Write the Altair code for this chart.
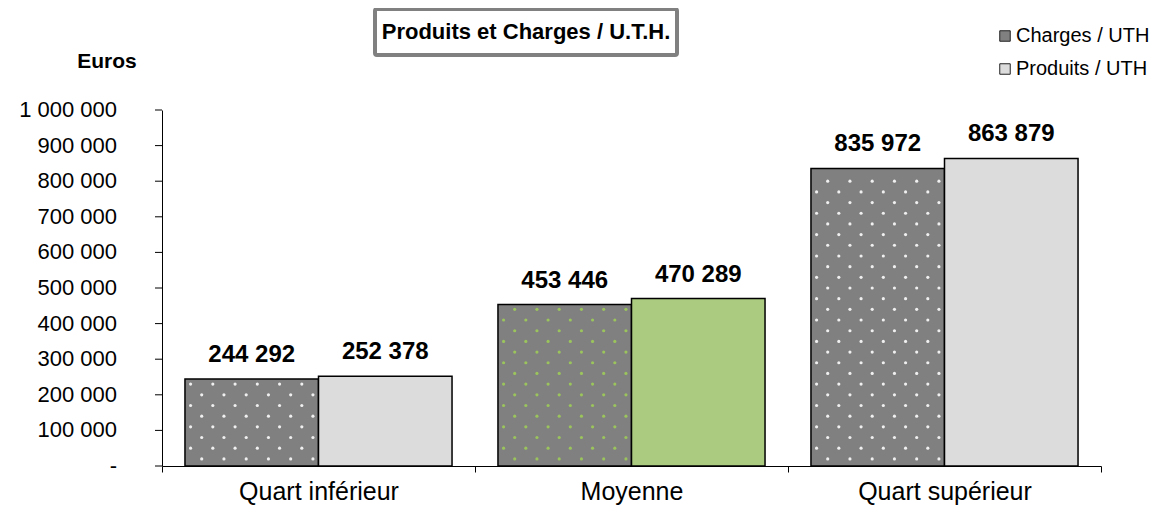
import altair as alt
import pandas as pd

categories = ["Quart inférieur", "Moyenne", "Quart supérieur"]
series = ["Charges / UTH", "Produits / UTH"]
charges = [244292, 453446, 835972]
produits = [252378, 470289, 863879]
y_ticks = [0, 100000, 200000, 300000, 400000, 500000, 600000, 700000, 800000, 900000, 1000000]

rows = []
for c, ch, pr in zip(categories, charges, produits):
    rows.append({"cat": c, "serie": series[0], "val": ch})
    rows.append({"cat": c, "serie": series[1], "val": pr})
df = pd.DataFrame(rows)
ticks_df = pd.DataFrame({"v": y_ticks})

FONT = "Liberation Sans"

x_axis = alt.Axis(title=None, labelFontSize=25, labelFont=FONT, labelColor="black",
                  labelAngle=0, labelLimit=400, domainColor="black", domainWidth=1,
                  tickColor="black", tickSize=6, tickBand="extent", labelPadding=7)
y_axis = alt.Axis(title=None, grid=False, ticks=False, labels=False,
                  domainColor="black", domainWidth=1)


def xe():
    return alt.X("cat:N", sort=categories,
                 scale=alt.Scale(type="band", paddingInner=0, paddingOuter=0), axis=x_axis)


def ye(field):
    return alt.Y(field, scale=alt.Scale(domain=[0, 1000000], nice=False), axis=y_axis)


def xoff():
    return alt.XOffset("serie:N", sort=series,
                       scale=alt.Scale(type="band", paddingInner=0, paddingOuter=0.172))


bars = alt.Chart(df).mark_bar(stroke="black", strokeWidth=1.5).encode(
    x=xe(), xOffset=xoff(), y=ye("val:Q"),
    fill=alt.condition(
        "datum.cat == 'Moyenne' && datum.serie == 'Produits / UTH'",
        alt.value("#aacb80"),
        alt.Fill("serie:N", sort=series,
                 scale=alt.Scale(domain=series, range=["#808080", "#dcdcdc"]),
                 legend=alt.Legend(title=None, orient="none", legendX=833, legendY=-84,
                                   symbolType="square", symbolSize=110,
                                   symbolStrokeColor="#222", symbolStrokeWidth=1,
                                   labelFontSize=20, labelFont=FONT, labelColor="black",
                                   labelOffset=1, rowPadding=13, padding=0))),
)

# dotted texture of the "Charges" bars (a fill pattern, built from each bar's value)
dots = alt.Chart(df).transform_filter(
    "datum.serie == 'Charges / UTH'"
).transform_calculate(
    r="sequence(0, floor((datum.val - 30000) / 30000) + 1)"
).transform_flatten(["r"]).transform_calculate(
    c="sequence(datum.r % 2 == 0 ? 1 : 0, 12, 2)"
).transform_flatten(["c"]).transform_calculate(
    yv="20000 + 30000 * datum.r",
    dc="datum.cat == 'Moyenne' ? '#9cc85a' : '#f6f6f6'"
).mark_circle(size=10, opacity=0.95).encode(
    x=xe(),
    xOffset=alt.XOffset("c:O", scale=alt.Scale(type="band", domain=list(range(-2, 26)),
                                                paddingInner=0, paddingOuter=0.07)),
    y=ye("yv:Q"),
    color=alt.Color("dc:N", scale=None),
)

labels = alt.Chart(df).transform_calculate(
    lab="replace(format(datum.val, ','), ',', ' ')"
).mark_text(fontSize=24, fontWeight="bold", font=FONT, color="black",
            baseline="alphabetic", dy=-17).encode(
    x=xe(), xOffset=xoff(), y=ye("val:Q"), text="lab:N")

# y axis ticks and labels, drawn from the tick list through the y scale
y_tick_marks = alt.Chart(ticks_df).mark_rule(color="black", strokeWidth=1).encode(
    y=ye("v:Q"), x=alt.value(-7), x2=alt.value(0))
y_tick_labels = alt.Chart(ticks_df).transform_calculate(
    lab="datum.v == 0 ? '-' : replace(replace(format(datum.v, ','), ',', ' '), ',', ' ')"
).mark_text(fontSize=22, font=FONT, color="black", align="right", baseline="middle").encode(
    y=ye("v:Q"), x=alt.value(-45), text="lab:N")

one = pd.DataFrame({"t": ["Produits et Charges / U.T.H."]})
title_box = alt.Chart(one).mark_rect(fill="white", stroke="#808080", strokeWidth=4,
                                     cornerRadius=2).encode(
    x=alt.value(213), x2=alt.value(515), y=alt.value(-101), y2=alt.value(-55))
title_txt = alt.Chart(one).mark_text(fontSize=22, fontWeight="bold", font=FONT,
                                     color="black", align="center", baseline="middle").encode(
    x=alt.value(364), y=alt.value(-78), text="t:N")
euros = alt.Chart(pd.DataFrame({"t": ["Euros"]})).mark_text(
    fontSize=21, fontWeight="bold", font=FONT, color="black",
    align="center", baseline="middle").encode(
    x=alt.value(-55), y=alt.value(-48), text="t:N")

chart = alt.layer(bars, dots, labels, y_tick_marks, y_tick_labels,
                  title_box, title_txt, euros).resolve_scale(
    xOffset="independent"
).properties(
    width=939, height=356,
    autosize=alt.AutoSizeParams(type="none"),
    padding={"left": 154, "top": 102, "right": 61, "bottom": 41},
).configure_view(stroke=None)

chart.save("out.html", embed_options={"renderer": "svg", "actions": False})
